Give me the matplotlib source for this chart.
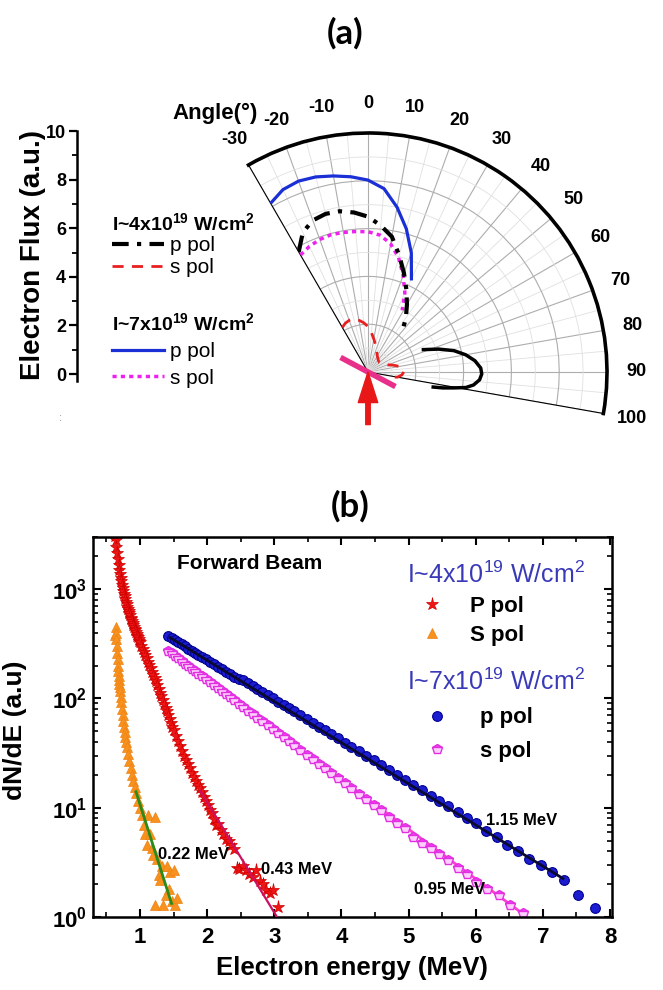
import numpy as np
import matplotlib
matplotlib.use("Agg")
import matplotlib.pyplot as plt
from matplotlib.ticker import MultipleLocator

plt.rcParams['font.family'] = ['Liberation Sans', 'DejaVu Sans']
plt.rcParams['font.weight'] = 'bold'
plt.rcParams['mathtext.default'] = 'regular'

# ---------------- panel (a): angular distribution ----------------
ang_p7 = [-30, -25, -20, -15, -10, -5, 0, 5, 10, 15, 20, 25]
flux_p7 = [8.15, 8.42, 8.5, 8.45, 8.33, 8.2, 8.03, 7.7, 7.0, 6.2, 5.3, 4.3]

ang_s7 = [-30, -25, -20, -15, -10, -5, 0, 5, 10, 15, 20, 25, 29]
flux_s7 = [5.65, 5.8, 5.9, 5.95, 5.93, 5.9, 5.87, 5.75, 5.45, 4.95, 4.3, 3.65, 2.95]

ang_p4 = [-30, -25, -20, -15, -10, -5, 0, 5, 10, 15, 20, 25, 30, 35, 40]
flux_p4 = [5.8, 6.45, 6.75, 6.85, 6.83, 6.7, 6.5, 6.15, 5.75, 5.05, 4.4, 3.8, 3.26, 2.76, 2.25]

# side lobe of the p pol (4e19) distribution
ang_p4_lobe = [68, 72, 76, 80, 84, 88, 91, 94, 97, 99, 100.5, 102, 103]
flux_p4_lobe = [2.5, 3.1, 3.7, 4.15, 4.5, 4.72, 4.76, 4.68, 4.45, 4.15, 3.65, 3.2, 2.8]

ang_s4 = [-30, -25, -20, -15, -10, -5, 0, 5, 10, 15, 20, 25, 30, 40, 50, 60,
          70, 75, 80, 85, 90, 95, 100, 103]
flux_s4 = [2.15, 2.25, 2.3, 2.3, 2.2, 2.07, 1.9, 1.65, 1.4, 1.2, 1.02, 0.88, 0.78,
           0.66, 0.62, 0.7, 0.88, 1.1, 1.33, 1.45, 1.5, 1.42, 1.25, 0.9]

# target foil and laser direction
foil_ang = [-62, 0, 118]
foil_r = [1.3, 0, 1.3]
laser_from = (180, 2.2)

angle_ticks = list(range(-30, 101, 10))

# ---------------- panel (b): energy spectra ----------------
p4_E = [0.62, 0.63, 0.64, 0.65, 0.66, 0.67, 0.68, 0.69, 0.70, 0.71, 0.72, 0.73, 0.74,
        0.75, 0.76, 0.77, 0.78, 0.79, 0.80, 0.81, 0.82, 0.83, 0.84, 0.85, 0.86, 0.87,
        0.88, 0.89, 0.90, 0.91, 0.92, 0.93, 0.94, 0.95, 0.96, 0.97, 0.98, 0.99, 1.00,
        1.02, 1.04, 1.06, 1.08, 1.10, 1.12,
        1.14, 1.16, 1.18, 1.20, 1.22, 1.24, 1.26, 1.28, 1.30, 1.32, 1.34, 1.36, 1.38,
        1.40, 1.42, 1.44, 1.46, 1.48, 1.50, 1.53, 1.56, 1.59, 1.62, 1.65, 1.68, 1.71,
        1.74, 1.77, 1.80, 1.83, 1.86, 1.89, 1.92, 1.95, 1.98, 2.01, 2.04, 2.07, 2.10,
        2.13, 2.16, 2.20, 2.24, 2.28, 2.32, 2.36, 2.40, 2.44, 2.48, 2.53, 2.58, 2.63,
        2.68, 2.73, 2.78, 2.83, 2.88, 2.93, 2.98, 3.06]
p4_N = [3300, 3050, 2800, 2450, 2150, 1880, 1660, 1500, 1380, 1270, 1175, 1090, 1020,
        960, 910, 860, 810, 765, 725, 690, 660, 630, 600, 575, 550, 530,
        510, 490, 470, 452, 435, 420, 405, 390, 375, 362, 350, 338, 327,
        305, 285, 266, 248, 232, 216,
        202, 188, 176, 164, 153, 143, 133, 123, 113, 105, 97, 89, 82,
        76, 70, 65, 60, 55, 51, 45, 41, 37, 33, 30, 27.5, 25,
        23, 21, 19, 17.6, 16.2, 15, 13.8, 12.6, 11.5, 10.5, 9.5, 8.9, 7.9,
        6.9, 7.1, 6.3, 5.8, 5.2, 5.0, 4.6, 4.2, 2.8, 2.75, 2.95, 2.7, 2.5,
        2.3, 2.7, 2.15, 2.0, 1.78, 1.66, 1.75, 1.23]

s4_E = [0.63, 0.64, 0.645, 0.65, 0.655, 0.66, 0.665, 0.67, 0.675, 0.68, 0.685, 0.69,
        0.695, 0.70, 0.71, 0.72, 0.73, 0.74, 0.75, 0.76, 0.77, 0.78, 0.79, 0.80, 0.82,
        0.84, 0.86, 0.88, 0.90, 0.92, 0.94, 0.97, 1.00, 1.03, 1.06, 1.08, 1.10, 1.12,
        1.15, 1.18, 1.20, 1.22, 1.23, 1.25, 1.28, 1.30, 1.33, 1.35, 1.38, 1.40, 1.43,
        1.45, 1.48, 1.50, 1.52, 1.55]
s4_N = [380, 450, 400, 350, 300, 260, 230, 200, 180, 160, 148, 135,
        126, 118, 104, 92, 80, 70, 62, 55, 49, 44, 40, 36, 31,
        27, 23, 20, 17.5, 15.5, 13.5, 11.5, 10, 8.5, 7, 5.8, 4.6, 8.6,
        5.8, 4.3, 3.7, 8.2, 1.3, 3.4, 2.4, 2.2, 2.9, 1.3, 1.6, 2.9, 1.8,
        2.6, 1.4, 2.7, 1.3, 1.5]

p7_E = [1.42, 1.47, 1.52, 1.57, 1.62, 1.67, 1.72, 1.77, 1.82, 1.87, 1.92, 1.98, 2.04,
        2.10, 2.16, 2.22, 2.28, 2.34, 2.40, 2.47, 2.54, 2.61, 2.68, 2.75, 2.82, 2.90,
        2.98, 3.06, 3.14, 3.22, 3.30, 3.39, 3.48, 3.57, 3.66, 3.75, 3.85, 3.95, 4.05,
        4.15, 4.26, 4.37, 4.48, 4.59, 4.71, 4.83, 4.95, 5.07, 5.20, 5.33, 5.46, 5.59,
        5.73, 5.87, 6.01, 6.16, 6.31, 6.47, 6.63, 6.80, 6.97, 7.14, 7.31, 7.53, 7.78]
p7_N = [372, 356, 340, 326, 312, 299, 286, 274, 262, 251, 240, 228, 217,
        206, 195, 185, 176, 167, 158, 152, 147, 138, 130, 122, 115, 107,
        100, 93, 87, 81, 76, 70, 64.7, 59.8, 55.3, 51.2, 46.9, 43.0, 39.4,
        36.1, 32.8, 29.9, 27.1, 24.7, 22.2, 20.0, 18.0, 16.2, 14.5, 12.9, 11.6, 10.3,
        9.1, 8.1, 7.2, 6.1, 5.4, 4.6, 4.0, 3.4, 3.0, 2.6, 2.2, 1.6, 1.2]

s7_E = [1.42, 1.47, 1.52, 1.57, 1.62, 1.67, 1.72, 1.77, 1.82, 1.87, 1.92, 1.98, 2.04,
        2.10, 2.16, 2.22, 2.28, 2.34, 2.40, 2.47, 2.54, 2.61, 2.68, 2.75, 2.82, 2.90,
        2.98, 3.06, 3.14, 3.22, 3.30, 3.39, 3.48, 3.57, 3.66, 3.75, 3.85, 3.95, 4.05,
        4.15, 4.26, 4.37, 4.48, 4.59, 4.71, 4.83, 4.95, 5.07, 5.20, 5.33, 5.46, 5.59,
        5.73, 5.87, 6.01, 6.17, 6.34, 6.51, 6.71]
s7_N = [272, 258, 244, 232, 220, 208, 198, 187, 178, 169, 160, 150, 141,
        132, 124, 116, 109, 103, 96, 89, 83, 77, 71.5, 66.4, 61.7, 56.6,
        52.0, 47.8, 44.0, 40.4, 37.1, 33.7, 30.6, 27.9, 25.3, 23.0, 20.7, 18.6, 16.7,
        15.1, 13.4, 11.9, 10.6, 9.5, 8.3, 7.3, 6.5, 5.4, 4.8, 4.3, 3.8, 3.3,
        2.8, 2.45, 2.1, 1.8, 1.6, 1.29, 1.08]

# exponential fits (end points)
fit_s4_E, fit_s4_N = [0.94, 1.47], [14.0, 1.33]
fit_p4_E, fit_p4_N = [1.9, 3.04], [14.2, 1.0]
fit_p7_E, fit_p7_N = [1.45, 7.3], [360, 2.25]
fit_s7_E, fit_s7_N = [1.45, 6.72], [262, 1.05]

fit_labels = [("0.22 MeV", 1.27, 3.7), ("0.43 MeV", 2.8, 2.7),
              ("1.15 MeV", 6.15, 7.6), ("0.95 MeV", 5.08, 1.77)]

W, H = 663, 990
fig = plt.figure(figsize=(W / 100, H / 100), dpi=100)

# ---------- (a) polar ----------
ax = fig.add_axes([0.3748, 0.5417, 0.5471, 0.3664], projection='polar')
ax.set_theta_zero_location('N')
ax.set_theta_direction(-1)
ax.set_thetamin(-30)
ax.set_thetamax(100)
ax.set_ylim(0, 10)

rad = np.deg2rad
ln_p7, = ax.plot(rad(ang_p7), flux_p7, color='#1a2fd6', lw=2.3, zorder=4)
ln_s7, = ax.plot(rad(ang_s7), flux_s7, color='#ee22ee', lw=2.5, ls=(0, (1.2, 1.2)),
                 zorder=4)
ln_p4, = ax.plot(rad(ang_p4), flux_p4, color='black', lw=3, ls=(0, (4, 2, 1, 2)), zorder=4)
ax.plot(rad(ang_p4_lobe), flux_p4_lobe, color='black', lw=2.5, zorder=4, clip_on=False)
ln_s4, = ax.plot(rad(ang_s4), flux_s4, color='#e82020', lw=2, ls=(0, (4, 3)), zorder=4,
                 clip_on=False)

ax.plot(rad(foil_ang), foil_r, color='#e8308a', lw=4, zorder=5, clip_on=False,
        solid_capstyle='butt')
ax.annotate('', xy=(0, 0), xytext=(rad(laser_from[0]), laser_from[1]),
            arrowprops=dict(facecolor='#e81818', edgecolor='#e81818', width=3.2,
                            headwidth=14, headlength=22, shrink=0, clip_on=False),
            annotation_clip=False, zorder=6)

ax.set_xticks(rad(angle_ticks))
ax.set_xticklabels([str(a) for a in angle_ticks], fontsize=13)
ax.set_xticks(rad(np.arange(-25, 100, 10)), minor=True)
ax.set_yticks([2, 4, 6, 8])
ax.set_yticks([1, 3, 5, 7, 9], minor=True)
ax.set_yticklabels([])
ax.tick_params(axis='x', which='major', direction='in', length=7, width=1.6, pad=14)
ax.tick_params(axis='x', which='minor', direction='in', length=4, width=1.3)
ax.tick_params(axis='y', which='both', length=0)
ax.grid(True, which='major', color='0.68', lw=0.8)
ax.grid(True, which='minor', color='0.88', lw=0.6)
ax.spines['polar'].set_linewidth(2.6)
for s in ('start', 'end', 'inner'):
    ax.spines[s].set_visible(False)

# put the pole and the r=10 arc at the reference pixel positions
fig.canvas.draw()
c = ax.transData.transform((0, 0))
e = ax.transData.transform((rad(90), 10))
scale = 239 / (e[0] - c[0])
bb = ax.get_position()
x0, y0, bw, bh = bb.x0 * W, bb.y0 * H, bb.width * W, bb.height * H
fx, fy = (c[0] - x0) / bw, (c[1] - y0) / bh
nw, nh = bw * scale, bh * scale
ax.set_position([(368 - fx * nw) / W, ((H - 372) - fy * nh) / H, nw / W, nh / H])

fig.text(215 / W, 1 - 113 / H, 'Angle(°)', fontsize=16, ha='center', va='center')

# left flux scale
axf = fig.add_axes([77 / W, (H - 381.3) / H, 0.01, (381.3 - 131) / H])
axf.set_ylim(-0.3, 10)
axf.set_xlim(0, 1)
axf.set_xticks([])
axf.set_yticks(range(0, 11, 2))
axf.yaxis.set_minor_locator(MultipleLocator(1))
axf.tick_params(axis='y', which='major', direction='out', length=6, width=1.6,
                labelsize=13, pad=2)
axf.tick_params(axis='y', which='minor', direction='out', length=3.5, width=1.3)
for s in ('top', 'right', 'bottom'):
    axf.spines[s].set_visible(False)
axf.spines['left'].set_linewidth(1.8)
axf.patch.set_alpha(0)
fig.text(33 / W, 1 - 255 / H, 'Electron Flux (a.u.)', fontsize=20, rotation=90,
         ha='center', va='center')
fig.text(60 / W, 1 - 418 / H, ':', fontsize=8, color='0.55', ha='center', va='center',
         weight='normal')

fig.legend(handles=[ln_p4, ln_s4], labels=['p pol', 's pol'],
           title=r'I~4x10$^{19}$ W/cm$^2$', loc='upper left',
           bbox_to_anchor=(112 / W, 1 - 212 / H), frameon=False,
           prop={'size': 15, 'weight': 'normal'},
           title_fontproperties={'size': 14, 'weight': 'bold'},
           alignment='left', handlelength=2.5, handletextpad=0.3,
           borderpad=0, labelspacing=0.12, borderaxespad=0)
fig.legend(handles=[ln_p7, ln_s7], labels=['p pol', 's pol'],
           title=r'I~7x10$^{19}$ W/cm$^2$', loc='upper left',
           bbox_to_anchor=(112 / W, 1 - 312 / H), frameon=False,
           prop={'size': 15, 'weight': 'normal'},
           title_fontproperties={'size': 14, 'weight': 'bold'},
           alignment='left', handlelength=2.5, handletextpad=0.3,
           borderpad=0, labelspacing=0.38, borderaxespad=0)

fig.text(345 / W, 1 - 33 / H, '(a)', fontsize=25, family='Lato', weight='bold',
         ha='center', va='center')

# ---------- (b) spectra ----------
ax2 = fig.add_axes([93 / W, (H - 917) / H, 519 / W, 380 / H])
ax2.set_yscale('log')
ax2.set_xlim(0.3, 8.03)
ax2.set_ylim(1, 3000)

sc_s4, = ax2.plot(s4_E, s4_N, ls='none', marker='^', ms=7.5, color='#f7921e',
                  mec='#f08010', mew=0.5, zorder=2)
sc_p4, = ax2.plot(p4_E, p4_N, ls='none', marker='*', ms=9.5, color='#ee1515',
                  mec='#d00000', mew=0.5, zorder=2)
sc_s7, = ax2.plot(s7_E, s7_N, ls='none', marker='p', ms=7.5, fillstyle='top',
                  mfc='#ff3cff', mfcalt='#ffd0ff', mec='#e030e0', mew=1, zorder=2)
sc_p7, = ax2.plot(p7_E, p7_N, ls='none', marker='o', ms=7, mfc='#1c1cd0',
                  mec='#000090', mew=0.8, zorder=2)

ax2.plot(fit_s4_E, fit_s4_N, color='#2a8a1a', lw=2, zorder=3)
ax2.plot(fit_p4_E, fit_p4_N, color='#cc1060', lw=1.6, zorder=3)
ax2.plot(fit_p7_E, fit_p7_N, color='#0a0a30', lw=2, zorder=3)
ax2.plot(fit_s7_E, fit_s7_N, color='#ff40d0', lw=2, zorder=1)

for txt, xe, yv in fit_labels:
    ax2.text(xe, yv, txt, fontsize=12, ha='left', va='center', zorder=5)
ax2.text(1.55, 1700, 'Forward Beam', fontsize=15, ha='left', va='center')

ax2.xaxis.set_major_locator(MultipleLocator(1))
ax2.xaxis.set_minor_locator(MultipleLocator(0.5))
ax2.tick_params(which='both', direction='in', top=True, right=True, labelsize=16)
ax2.tick_params(which='major', length=6, width=1.5)
ax2.tick_params(which='minor', length=3.5, width=1.2)
ax2.tick_params(axis='x', pad=7)
ax2.tick_params(axis='y', pad=4)
for s in ax2.spines.values():
    s.set_linewidth(1.8)

leg1 = ax2.legend(handles=[sc_p4, sc_s4], labels=['P pol', 'S pol'],
                  title=r'I~4x10$^{19}$ W/cm$^2$', loc='upper left',
                  bbox_to_anchor=(0.605, 0.935), frameon=False,
                  prop={'size': 16, 'weight': 'bold'},
                  title_fontproperties={'size': 18, 'weight': 'normal'},
                  alignment='left', numpoints=1, handlelength=2.25,
                  handletextpad=0.6, borderpad=0, labelspacing=0.35, borderaxespad=0)
leg1.get_title().set_color('#3a3ab8')
ax2.add_artist(leg1)
leg2 = ax2.legend(handles=[sc_p7, sc_s7], labels=['p pol', 's pol'],
                  title=r'I~7x10$^{19}$ W/cm$^2$', loc='upper left',
                  bbox_to_anchor=(0.605, 0.653), frameon=False,
                  prop={'size': 16, 'weight': 'bold'},
                  title_fontproperties={'size': 18, 'weight': 'normal'},
                  alignment='left', numpoints=1, handlelength=2.7,
                  handletextpad=0.6, borderpad=0, labelspacing=0.55, borderaxespad=0)
leg2.get_title().set_color('#3a3ab8')

fig.text(352 / W, 1 - 968 / H, 'Electron energy (MeV)', fontsize=18.5,
         ha='center', va='center')
fig.text(15 / W, 1 - 730 / H, 'dN/dE (a.u)', fontsize=19, rotation=90,
         ha='center', va='center')
fig.text(350 / W, 1 - 506 / H, '(b)', fontsize=25, family='Lato', weight='bold',
         ha='center', va='center')

fig.savefig('out.png', dpi=100)
